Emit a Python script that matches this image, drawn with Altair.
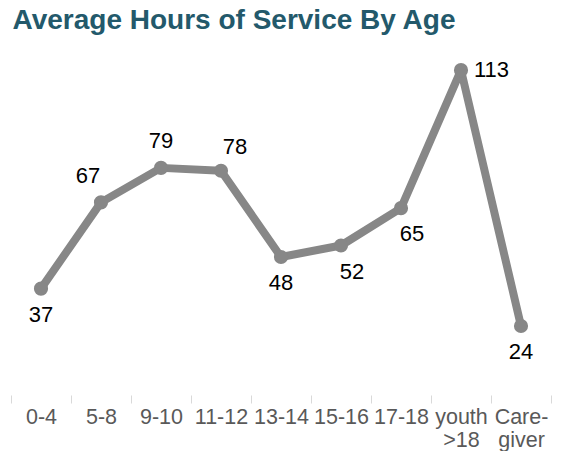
import altair as alt
import pandas as pd

ages = ["0-4", "5-8", "9-10", "11-12", "13-14", "15-16", "17-18", "youth >18", "Care-giver"]
hours = [37, 67, 79, 78, 48, 52, 65, 113, 24]
label_place = ["below", "above-left", "above", "above-right", "below",
               "below-right", "below-right", "right", "below"]

df = pd.DataFrame({"age": ages, "hours": hours, "place": label_place})

GRAY = "#878787"
FONT = "Liberation Sans"

x = alt.X(
    "age:N",
    sort=ages,
    scale=alt.Scale(paddingInner=0, paddingOuter=0),
    axis=alt.Axis(
        title=None,
        labelAngle=0,
        labelFont=FONT,
        labelFontSize=21.5,
        labelColor="#595959",
        labelLineHeight=23,
        labelPadding=3,
        tickColor="#d9d9d9",
        tickSize=8,
        tickWidth=1,
        tickBand="extent",
        domain=False,
        grid=False,
        labelExpr="datum.value == 'youth >18' ? ['youth', '>18'] : datum.value == 'Care-giver' ? ['Care-', 'giver'] : datum.label",
    ),
)
y = alt.Y("hours:Q", scale=alt.Scale(domain=[0, 120]), axis=None)

base = alt.Chart(df).encode(x=x, y=y)

line = base.mark_line(color=GRAY, strokeWidth=8, strokeCap="round", strokeJoin="round")
pts = base.mark_circle(color=GRAY, size=200, opacity=1)

offsets = {
    "below": dict(dx=0, dy=26, align="center"),
    "above": dict(dx=0, dy=-27, align="center"),
    "above-left": dict(dx=-13, dy=-26, align="center"),
    "above-right": dict(dx=14, dy=-24, align="center"),
    "below-right": dict(dx=11, dy=26, align="center"),
    "right": dict(dx=13, dy=0, align="left"),
}

texts = []
for place, o in offsets.items():
    texts.append(
        base.transform_filter(alt.datum.place == place)
        .mark_text(font=FONT, fontSize=22, color="black", baseline="middle", **o)
        .encode(text="hours:Q")
    )

chart = alt.layer(line, pts, *texts).properties(
    width=540,
    height=345,
    padding={"left": 11, "top": 50, "right": 11, "bottom": 56},
    autosize=alt.AutoSizeParams(type="none"),
    title=alt.TitleParams(
        "Average Hours of Service By Age",
        anchor="start",
        font=FONT,
        fontSize=28,
        fontWeight="bold",
        color="#23596b",
        offset=20,
        baseline="alphabetic",
        dy=27,
        dx=2,
    ),
).configure_view(stroke=None)

chart.save("out.html", embed_options={"renderer": "svg", "actions": False})
